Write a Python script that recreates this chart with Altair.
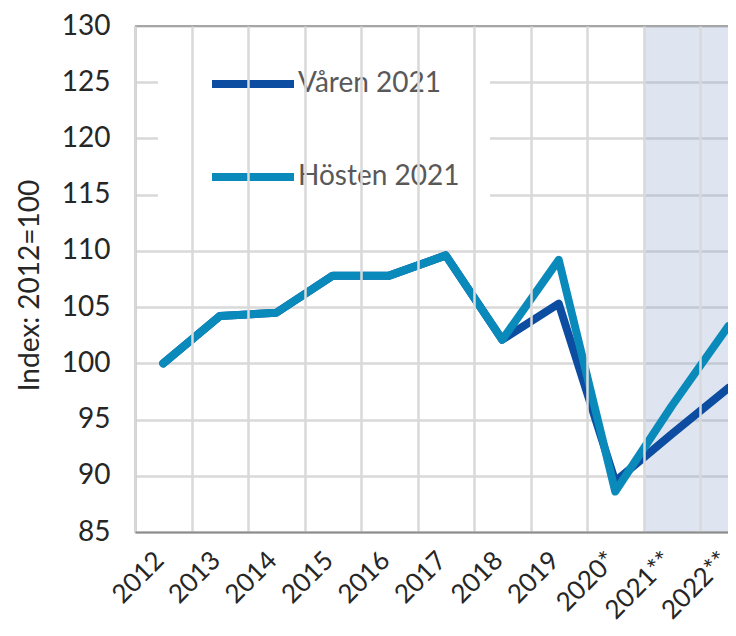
import altair as alt
import pandas as pd

years = ["2012", "2013", "2014", "2015", "2016", "2017", "2018", "2019", "2020*", "2021**", "2022**"]
varen = [100.0, 104.2, 104.5, 107.8, 107.8, 109.6, 102.1, 105.3, 89.5, 93.7, 97.8]
hosten = [100.0, 104.2, 104.5, 107.8, 107.8, 109.6, 102.1, 109.2, 88.6, 96.2, 103.3]
series = ["Våren 2021", "Hösten 2021"]
colors = ["#0C4DA2", "#0A8ABA"]
forecast_years = ["2021**", "2022**"]
y_ticks = [85, 90, 95, 100, 105, 110, 115, 120, 125, 130]

rows = []
for s, vals in zip(series, [varen, hosten]):
    for i, (yr, v) in enumerate(zip(years, vals)):
        rows.append({"year": yr, "value": v, "series": s, "idx": i})
df = pd.DataFrame(rows)

W, H = 593, 506
band_w = 56.5
FONT = "Lato"

x_scale = alt.Scale(domain=years, range=[0, band_w * len(years)], paddingInner=0, paddingOuter=0)
y_scale = alt.Scale(domain=[85, 130], nice=False, zero=False)

x_axis = alt.Axis(
    title=None, labelAngle=-45, labelAlign="right", labelBaseline="middle",
    labelFont=FONT, labelFontSize=26, labelColor="#262626", labelPadding=24,
    labelOffset=-4, labelOverlap=False, ticks=False, grid=True, tickBand="extent",
    gridColor="#D9D9D9", gridWidth=2.5, domainColor="#8C8C8C", domainWidth=2,
)
y_axis = alt.Axis(
    values=y_ticks, title="Index: 2012=100", titleFont=FONT, titleFontSize=28,
    titleFontWeight="normal", titleColor="#262626", titleX=-105, titleY=259,
    titleAngle=-90, titleAlign="center", titleBaseline="middle",
    labelFont=FONT, labelFontSize=28, labelColor="#262626", labelPadding=25,
    ticks=False, grid=True, gridColor="#D9D9D9", gridWidth=2.5,
    domainColor="#8C8C8C", domainWidth=2,
)

shade = alt.Chart(pd.DataFrame({"year": forecast_years})).mark_rect(
    color="#8DA1C9", opacity=0.28, strokeWidth=0
).encode(
    x=alt.X("year:N", scale=x_scale, axis=x_axis),
    y=alt.Y(datum=130, scale=y_scale, axis=y_axis),
    y2=alt.Y2(datum=85),
)

top_rule = alt.Chart(pd.DataFrame({"v": [130]})).mark_rule(
    color="#A6A6A6", strokeWidth=2
).encode(y=alt.Y("v:Q", scale=y_scale))

color = alt.Color(
    "series:N",
    scale=alt.Scale(domain=series, range=colors),
    legend=alt.Legend(
        orient="none", legendX=23, legendY=12, title=None,
        symbolType="stroke", symbolSize=82 * 82, symbolStrokeWidth=8,
        labelFont=FONT, labelFontSize=28, labelColor="#595959", labelOffset=0,
        labelLimit=400, clipHeight=34, rowPadding=59, padding=29,
        symbolOffset=21, fillColor="white", strokeColor="white",
    ),
)

def line_layer(name):
    return alt.Chart(df).transform_filter(alt.datum.series == name).mark_line(
        strokeWidth=8, strokeCap="round", strokeJoin="round"
    ).encode(
        x=alt.X("year:N", scale=x_scale, sort=years),
        y=alt.Y("value:Q", scale=y_scale),
        color=color,
        order="idx:Q",
    )

chart = alt.layer(shade, top_rule, line_layer("Våren 2021"), line_layer("Hösten 2021")).properties(
    width=W, height=H,
    autosize=alt.AutoSizeParams(type="none"),
    padding={"left": 127, "top": 18, "right": 0, "bottom": 96},
).configure_view(stroke=None)

chart.save("out.html", embed_options={"renderer": "svg", "actions": False})
